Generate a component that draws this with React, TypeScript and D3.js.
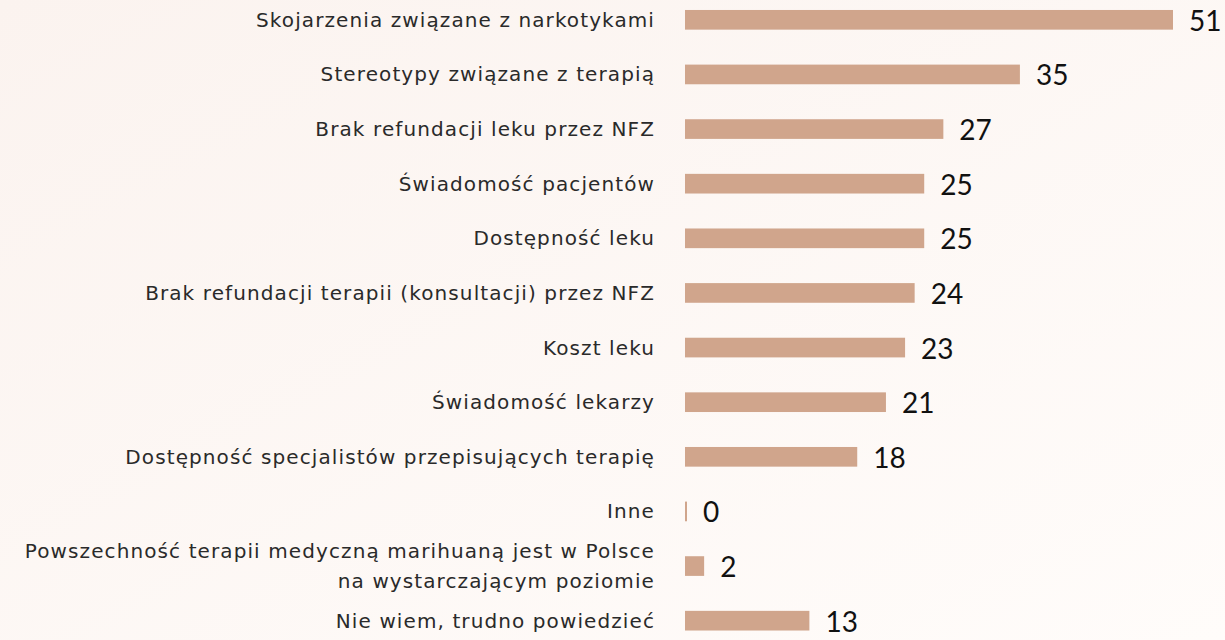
import React from "react";
import * as d3 from "d3";

const categories: string[][] = [
  ["Skojarzenia związane z narkotykami"],
  ["Stereotypy związane z terapią"],
  ["Brak refundacji leku przez NFZ"],
  ["Świadomość pacjentów"],
  ["Dostępność leku"],
  ["Brak refundacji terapii (konsultacji) przez NFZ"],
  ["Koszt leku"],
  ["Świadomość lekarzy"],
  ["Dostępność specjalistów przepisujących terapię"],
  ["Inne"],
  ["Powszechność terapii medyczną marihuaną jest w Polsce", "na wystarczającym poziomie"],
  ["Nie wiem, trudno powiedzieć"],
];
const values: number[] = [51, 35, 27, 25, 25, 24, 23, 21, 18, 0, 2, 13];

const W = 1225;
const H = 640;

export default function App() {
  const x = d3.scaleLinear().domain([0, 51]).range([685, 1173]);
  const y = d3
    .scaleBand<number>()
    .domain(d3.range(values.length))
    .range([-7.5, 648])
    .paddingInner(0.64)
    .paddingOuter(0.32);
  const bh = y.bandwidth();
  return (
    <svg
      width={W}
      height={H}
      style={{ position: "absolute", left: 0, top: 0, display: "block" }}
    >
      <defs>
        <linearGradient id="bg" x1="0" y1="0" x2="1" y2="1">
          <stop offset="0%" stopColor="#fbf3ef" />
          <stop offset="100%" stopColor="#fffcfa" />
        </linearGradient>
      </defs>
      <rect x={0} y={0} width={W} height={H} fill="url(#bg)" />
      {values.map((v, i) => {
        const y0 = y(i) as number;
        const cy = y0 + bh / 2;
        const w = Math.max(2, x(v) - x(0));
        const lines = categories[i];
        return (
          <g key={i}>
            <rect x={x(0)} y={y0} width={w} height={bh} fill="#d0a58c" />
            {lines.map((ln, j) => (
              <text
                key={j}
                x={655}
                y={cy + 7 + (j - (lines.length - 1) / 2) * 30}
                textAnchor="end"
                fontSize={20}
                letterSpacing={1.1}
                fontFamily="'DejaVu Sans', sans-serif"
                fill="#2a2a2a"
              >
                {ln}
              </text>
            ))}
            <text
              x={x(0) + w + 16}
              y={cy + 11}
              fontSize={28}
              fontFamily="Lato, sans-serif"
              fill="#111"
            >
              {v}
            </text>
          </g>
        );
      })}
    </svg>
  );
}
